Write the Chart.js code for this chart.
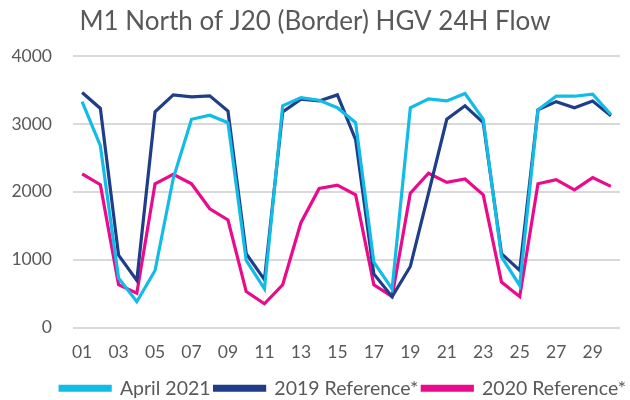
<!DOCTYPE html>
<html>
<head>
<meta charset="utf-8">
<script src="https://cdn.jsdelivr.net/npm/chart.js@4/dist/chart.umd.min.js"></script>
<style>
  html, body { margin: 0; padding: 0; background: #ffffff; }
  #wrap { width: 630px; height: 400px; }
</style>
</head>
<body>
<div id="wrap"><canvas id="c" width="630" height="400"></canvas></div>
<script>
const days = ["01","02","03","04","05","06","07","08","09","10","11","12","13","14","15","16","17","18","19","20","21","22","23","24","25","26","27","28","29","30"];
const april2021 = [3330,2680,730,380,840,2200,3070,3130,3020,990,570,3270,3390,3350,3240,3020,965,570,3240,3370,3340,3450,3070,1040,620,3210,3410,3410,3440,3140];
const ref2019 = [3465,3230,1065,695,3180,3430,3400,3415,3190,1090,705,3180,3365,3340,3430,2770,790,455,900,1980,3070,3270,3020,1090,840,3210,3330,3240,3340,3120];
const ref2020 = [2265,2105,630,505,2120,2260,2120,1750,1585,530,350,630,1545,2050,2100,1955,630,455,1980,2275,2140,2190,1955,670,455,2120,2180,2030,2210,2080];
const yTicks = [0,1000,2000,3000,4000];
const seriesNames = ["April 2021","2019 Reference*","2020 Reference*"];
const seriesColors = ["#12BCE6","#1F3D88","#EA0A8C"];

const font = "Lato, 'Liberation Sans', sans-serif";
const textColor = "#595959";

const legendShift = {
  id: 'legendShift',
  afterLayout(chart) {
    const lg = chart.legend;
    if (lg) { lg.top += 8; lg.bottom += 8; }
  }
};

new Chart(document.getElementById('c'), {
  type: 'line',
  data: {
    labels: days,
    datasets: [april2021, ref2019, ref2020].map((d, i) => ({
      label: seriesNames[i],
      data: d,
      borderColor: seriesColors[i],
      backgroundColor: seriesColors[i],
      borderWidth: 3.2,
      pointRadius: 0,
      tension: 0,
      fill: false
    }))
  },
  plugins: [legendShift],
  options: {
    responsive: false,
    animation: false,
    devicePixelRatio: 1,
    layout: { padding: { left: 0, right: 0, top: 6, bottom: 0 } },
    plugins: {
      title: {
        display: true,
        text: 'M1 North of J20 (Border) HGV 24H Flow',
        color: textColor,
        font: { family: font, size: 26, weight: 'normal' },
        padding: { top: 0, bottom: 19 }
      },
      legend: {
        position: 'bottom',
        align: 'end',
        labels: {
          color: textColor,
          font: { family: font, size: 19.5 },
          boxWidth: 50,
          boxHeight: 4,
          padding: 4
        }
      },
      tooltip: { enabled: false }
    },
    scales: {
      x: {
        offset: true,
        grid: { display: false, drawTicks: false },
        border: { display: false },
        afterFit: (s) => { s.height = 39; },
        ticks: {
          color: textColor,
          font: { family: font, size: 17.5 },
          autoSkip: false,
          maxRotation: 0,
          padding: 14,
          callback: function(v, i) { return i % 2 === 0 ? days[i] : ''; }
        }
      },
      y: {
        min: 0,
        max: 4000,
        afterBuildTicks: (s) => { s.ticks = yTicks.map(v => ({ value: v })); },
        afterFit: (s) => { s.width = 73; },
        grid: { color: '#d9d9d9', lineWidth: 2, drawTicks: false },
        border: { display: false },
        ticks: {
          color: textColor,
          font: { family: font, size: 17.5 },
          padding: 21,
          callback: (v) => String(v)
        }
      },
      yr: {
        position: 'right',
        display: true,
        grid: { display: false, drawTicks: false },
        border: { display: false },
        ticks: { display: false },
        afterFit: (s) => { s.width = 10; }
      }
    }
  }
});
</script>
</body>
</html>
